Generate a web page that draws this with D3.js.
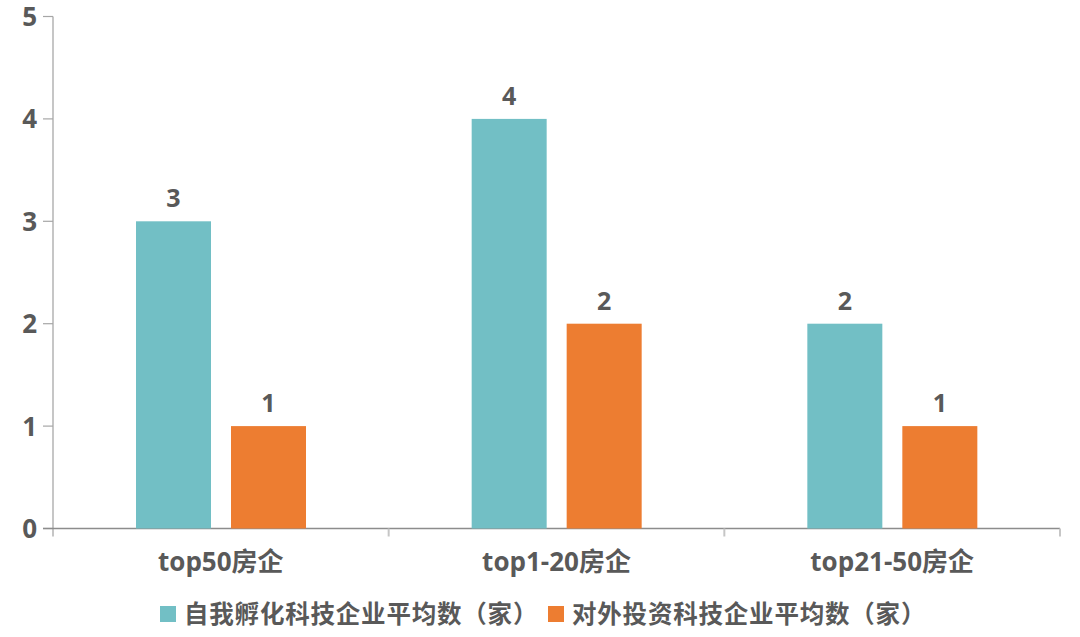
<!DOCTYPE html>
<html><head><meta charset="utf-8">
<script src="https://cdn.jsdelivr.net/npm/d3@7"></script>
<style>
html,body{margin:0;padding:0;background:#fff;}
text{font-family:"Open Sans","Noto Sans CJK SC",sans-serif;font-weight:bold;fill:#595959;}
</style></head>
<body>
<svg id="c" width="1080" height="637"></svg>
<script>
const categories = ["top50房企", "top1-20房企", "top21-50房企"];
const seriesNames = ["自我孵化科技企业平均数（家）", "对外投资科技企业平均数（家）"];
const selfIncubated = [3, 4, 2];
const externalInvest = [1, 2, 1];
const yTicks = [0, 1, 2, 3, 4, 5];
const colors = ["#72BFC5", "#ED7D31"];

(function () {
const svg = d3.select("#c");
const pLeft = 53, pRight = 1060, pTop = 16.5, pBottom = 528.5;

const x = d3.scaleBand().domain(categories).range([pLeft, pRight]).paddingInner(0).paddingOuter(0);
const y = d3.scaleLinear().domain([0, 5]).range([pBottom, pTop]);

// y axis line
svg.append("line").attr("x1", pLeft).attr("x2", pLeft).attr("y1", pTop).attr("y2", pBottom + 8)
  .attr("stroke", "#c6c6c6").attr("stroke-width", 2);
// y ticks
svg.selectAll(".yt").data(yTicks).enter().append("line")
  .attr("x1", pLeft - 10).attr("x2", pLeft).attr("y1", d => y(d)).attr("y2", d => y(d))
  .attr("stroke", "#a6a6a6").attr("stroke-width", 1.2);
svg.selectAll(".yl").data(yTicks).enter().append("text")
  .attr("x", 37).attr("y", d => y(d) + 9.5).attr("text-anchor", "end")
  .attr("font-size", 26).text(d => d);

// baseline
svg.append("line").attr("x1", pLeft - 10).attr("x2", pRight).attr("y1", pBottom).attr("y2", pBottom)
  .attr("stroke", "#8c8c8c").attr("stroke-width", 1.5);
// group boundary ticks
const bounds = categories.map(c => x(c) + x.bandwidth());
svg.selectAll(".xt").data(bounds).enter().append("line")
  .attr("x1", d => d).attr("x2", d => d).attr("y1", pBottom).attr("y2", pBottom + 8)
  .attr("stroke", "#c6c6c6").attr("stroke-width", 2);

// bars
const series = [selfIncubated, externalInvest];
series.forEach((vals, si) => {
  const w = 75;
  const offs = si === 0 ? 83 : 83 + 75 + 20;
  svg.selectAll(".b" + si).data(vals).enter().append("rect")
    .attr("x", (d, i) => x(categories[i]) + offs)
    .attr("y", d => y(d)).attr("width", w).attr("height", d => y(0) - y(d))
    .attr("fill", colors[si]);
  svg.selectAll(".v" + si).data(vals).enter().append("text")
    .attr("x", (d, i) => x(categories[i]) + offs + w / 2)
    .attr("y", d => y(d) - 14).attr("text-anchor", "middle")
    .attr("font-size", 25).text(d => d);
});

// category labels
svg.selectAll(".cl").data(categories).enter().append("text")
  .attr("x", d => x(d) + x.bandwidth() / 2).attr("y", 571).attr("text-anchor", "middle")
  .attr("font-size", 26).text(d => d);

// legend
const legX = [160, 548];
seriesNames.forEach((n, i) => {
  svg.append("rect").attr("x", legX[i]).attr("y", 606).attr("width", 16).attr("height", 16).attr("fill", colors[i]);
  svg.append("text").attr("x", legX[i] + 24).attr("y", 623).attr("font-size", 24.5)
    .attr("letter-spacing", 0.8).text(n);
});
})();
</script>
</body></html>
